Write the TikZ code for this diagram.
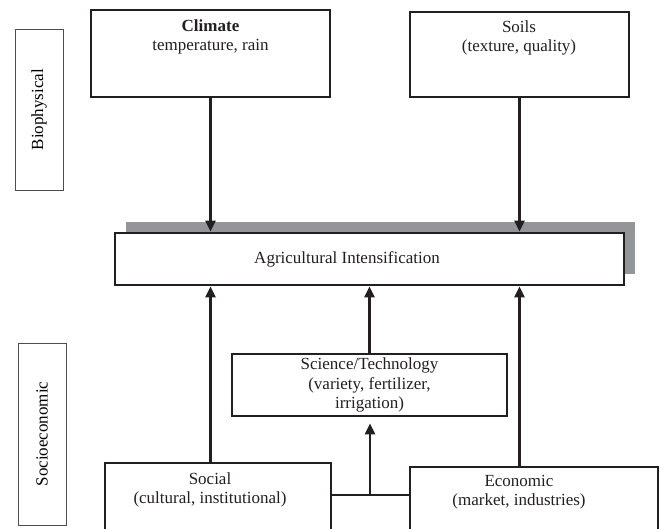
\documentclass[tikz,border=0pt]{standalone}
\usepackage{fontspec}
\setmainfont{Liberation Serif}
\usepackage{tikz}
\usetikzlibrary{arrows.meta,shadows,calc}
\usepackage{xcolor}
\definecolor{mline}{HTML}{231F20}
\definecolor{mgray}{HTML}{939598}
\definecolor{mside}{HTML}{4D4D4F}
\tikzstyle{box}=[rectangle, draw=mline, line width=2.8, inner sep=0pt, fill=white]
\tikzstyle{side}=[rectangle, draw=mside, line width=0.8, rotate=90, inner sep=0pt, minimum height=48]
\tikzstyle{txt}=[align=center, inner sep=0pt, text=mline]
\tikzstyle{l1}=[line width=2.4, draw=mline]
\tikzstyle{arr}=[l1, -{Triangle[length=11pt, width=10pt]}]

\begin{document}
\begin{tikzpicture}[x=1pt, y=-1pt, font=\fontsize{17}{19.5}\selectfont]
    \useasboundingbox (0,0) rectangle (660,528);

    % side labels
    \node[side, minimum width=161] at (39,109.5) (bio) {Biophysical};
    \node[side, minimum width=182] at (42,434) (soc) {Socioeconomic};

    % biophysical drivers
    \node[box, minimum width=239, minimum height=87] at (210.5,53.5) (clim) {};
    \node[txt] at (210.5,37) (climt) {\textbf{Climate}\\temperature, rain};
    \node[box, minimum width=219, minimum height=85] at (519.5,54.5) (soil) {};
    \node[txt] at (519,38) (soilt) {Soils\\(texture, quality)};

    % outcome
    \node[box, minimum width=509, minimum height=52,
          drop shadow={shadow xshift=11pt, shadow yshift=11pt, fill=mgray, opacity=1}] at (369.5,259) (agri) {};
    \node[txt] at (347,259) (agrit) {Agricultural Intensification};

    % socioeconomic drivers
    \node[box, txt, minimum width=275, minimum height=62] at (369.5,385) (sci) {Science/Technology\\(variety, fertilizer,\\irrigation)};
    \node[box, minimum width=226, minimum height=69] at (218,497.5) (social) {};
    \node[txt] at (210,490) (socialt) {Social\\(cultural, institutional)};
    \node[box, minimum width=248, minimum height=65] at (534,499.5) (econ) {};
    \node[txt] at (519,492) (econt) {Economic\\(market, industries)};

    \coordinate (mid) at (370,495);

    \draw[arr] (clim.south) -- (clim.south |- agri.north);
    \draw[arr] (soil.south) -- (soil.south |- agri.north);
    \draw[arr] (clim.south |- social.north) -- (clim.south |- agri.south);
    \draw[arr] (soil.south |- econ.north) -- (soil.south |- agri.south);
    \draw[arr] (sci.north) -- (sci.north |- agri.south);
    \draw[l1] (social.east |- mid) -- (econ.west |- mid);
    \draw[arr, shorten >=6pt] (mid) -- (mid |- sci.south);

\end{tikzpicture}
\end{document}
